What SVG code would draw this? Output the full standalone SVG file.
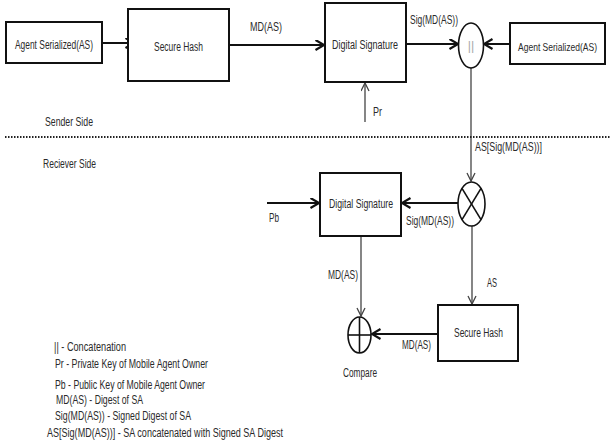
<svg xmlns="http://www.w3.org/2000/svg" width="610" height="445" viewBox="0 0 610 445">
<style>
text{font-family:"Liberation Sans",Arial,sans-serif;font-size:12.5px;fill:#2a2a2a}
.box{fill:#fff;stroke:#111;stroke-width:2}
.ell{fill:#fff;stroke:#111;stroke-width:1.6}
.thick{stroke:#111;stroke-width:2;fill:none}
.thin{stroke:#444;stroke-width:1.3;fill:none}
.mid{text-anchor:middle}
</style>
<defs>
<marker id="ah" markerUnits="userSpaceOnUse" markerWidth="12" markerHeight="12" refX="9.5" refY="5.5" orient="auto">
<path d="M1,0.5 L9.5,5.5 L1,10.5" fill="none" stroke="#111" stroke-width="2.2"/>
</marker>
<marker id="ahs" markerUnits="userSpaceOnUse" markerWidth="12" markerHeight="12" refX="9" refY="4.5" orient="auto">
<path d="M1,0.5 L9,4.5 L1,8.5" fill="none" stroke="#444" stroke-width="1.3"/>
</marker>
</defs>
<rect width="610" height="445" fill="#fff"/>

<g id="connectors">
<line class="thick" x1="102" y1="43" x2="134" y2="43" marker-end="url(#ah)"/>
<line class="thick" x1="229" y1="45" x2="324" y2="45" marker-end="url(#ah)"/>
<line class="thick" x1="406" y1="44" x2="458" y2="44" marker-end="url(#ah)"/>
<line class="thick" x1="510" y1="44" x2="484" y2="44" marker-end="url(#ah)"/>
<line class="thin" x1="365" y1="122" x2="365" y2="83" marker-end="url(#ahs)"/>
<line class="thin" x1="471" y1="68" x2="471" y2="181" marker-end="url(#ahs)"/>
<line class="thick" x1="458" y1="203" x2="402" y2="203" marker-end="url(#ah)"/>
<line class="thick" x1="267" y1="203" x2="319" y2="203" marker-end="url(#ah)"/>
<line class="thin" x1="361" y1="236" x2="361" y2="316" marker-end="url(#ahs)"/>
<line class="thin" x1="472" y1="226" x2="472" y2="304" marker-end="url(#ahs)"/>
<line class="thick" x1="438" y1="334" x2="372" y2="334" marker-end="url(#ah)"/>
<line x1="5" y1="137" x2="610" y2="137" stroke="#222" stroke-width="2" stroke-dasharray="1.5 1.5"/>
<text x="250" y="31" textLength="32" lengthAdjust="spacingAndGlyphs">MD(AS)</text>
<text x="410" y="24" textLength="48" lengthAdjust="spacingAndGlyphs">Sig(MD(AS))</text>
<text x="373" y="116" textLength="9" lengthAdjust="spacingAndGlyphs">Pr</text>
<text x="475" y="151" textLength="67" lengthAdjust="spacingAndGlyphs">AS[Sig(MD(AS))]</text>
<text x="269" y="222" textLength="10" lengthAdjust="spacingAndGlyphs">Pb</text>
<text x="406" y="225" textLength="48" lengthAdjust="spacingAndGlyphs">Sig(MD(AS))</text>
<text x="328" y="279" textLength="30" lengthAdjust="spacingAndGlyphs">MD(AS)</text>
<text x="487" y="287" textLength="10" lengthAdjust="spacingAndGlyphs">AS</text>
<text x="402" y="349" textLength="29" lengthAdjust="spacingAndGlyphs">MD(AS)</text>
</g>

<g id="agent-serialized-left">
<rect class="box" x="6" y="22" width="96" height="41"/>
<text x="15" y="49" textLength="78" lengthAdjust="spacingAndGlyphs">Agent Serialized(AS)</text>
</g>
<g id="secure-hash-top">
<rect class="box" x="128" y="9" width="101" height="72"/>
<text x="154" y="51" textLength="49" lengthAdjust="spacingAndGlyphs">Secure Hash</text>
</g>
<g id="digital-signature-top">
<rect class="box" x="325" y="3" width="81" height="79"/>
<text x="332" y="49" textLength="66" lengthAdjust="spacingAndGlyphs">Digital Signature</text>
</g>
<g id="concat">
<ellipse class="ell" cx="471" cy="45.5" rx="12.5" ry="22.5"/>
<text x="471" y="50" class="mid" style="fill:#aaa">||</text>
</g>
<g id="agent-serialized-right">
<rect class="box" x="510" y="23" width="95" height="41"/>
<text x="557.5" y="51" class="mid" style="font-size:11.5px" textLength="79" lengthAdjust="spacingAndGlyphs">Agent Serialized(AS)</text>
</g>
<g id="sender-side"><text x="45" y="126" textLength="48" lengthAdjust="spacingAndGlyphs">Sender Side</text></g>
<g id="receiver-side"><text x="43" y="168" textLength="53" lengthAdjust="spacingAndGlyphs">Reciever Side</text></g>
<g id="split">
<ellipse class="ell" cx="471.5" cy="204" rx="13.5" ry="22"/>
<line x1="462" y1="188.4" x2="481" y2="219.6" stroke="#111" stroke-width="1.6"/>
<line x1="481" y1="188.4" x2="462" y2="219.6" stroke="#111" stroke-width="1.6"/>
</g>
<g id="digital-signature-bottom">
<rect class="box" x="320" y="173" width="81" height="63"/>
<text x="329" y="208" textLength="64" lengthAdjust="spacingAndGlyphs">Digital Signature</text>
</g>
<g id="compare">
<ellipse class="ell" cx="359.5" cy="335" rx="11.5" ry="18"/>
<line x1="348" y1="335" x2="371" y2="335" stroke="#111" stroke-width="1.6"/>
<line x1="359.5" y1="317" x2="359.5" y2="353" stroke="#111" stroke-width="1.6"/>
<text x="343" y="377" textLength="34" lengthAdjust="spacingAndGlyphs">Compare</text>
</g>
<g id="secure-hash-bottom">
<rect class="box" x="438" y="305" width="80" height="56"/>
<text x="454" y="337" textLength="49" lengthAdjust="spacingAndGlyphs">Secure Hash</text>
</g>
<g id="legend">
<text x="54" y="351" textLength="72" lengthAdjust="spacingAndGlyphs">|| - Concatenation</text>
<text x="55" y="368" textLength="153" lengthAdjust="spacingAndGlyphs">Pr - Private Key of Mobile Agent Owner</text>
<text x="55" y="389" textLength="150" lengthAdjust="spacingAndGlyphs">Pb - Public Key of Mobile Agent Owner</text>
<text x="56" y="404" textLength="87" lengthAdjust="spacingAndGlyphs">MD(AS) - Digest of SA</text>
<text x="55" y="420" textLength="136" lengthAdjust="spacingAndGlyphs">Sig(MD(AS)) - Signed Digest of SA</text>
<text x="47" y="437" textLength="236" lengthAdjust="spacingAndGlyphs">AS[Sig(MD(AS))] - SA concatenated with Signed SA Digest</text>
</g>
</svg>
